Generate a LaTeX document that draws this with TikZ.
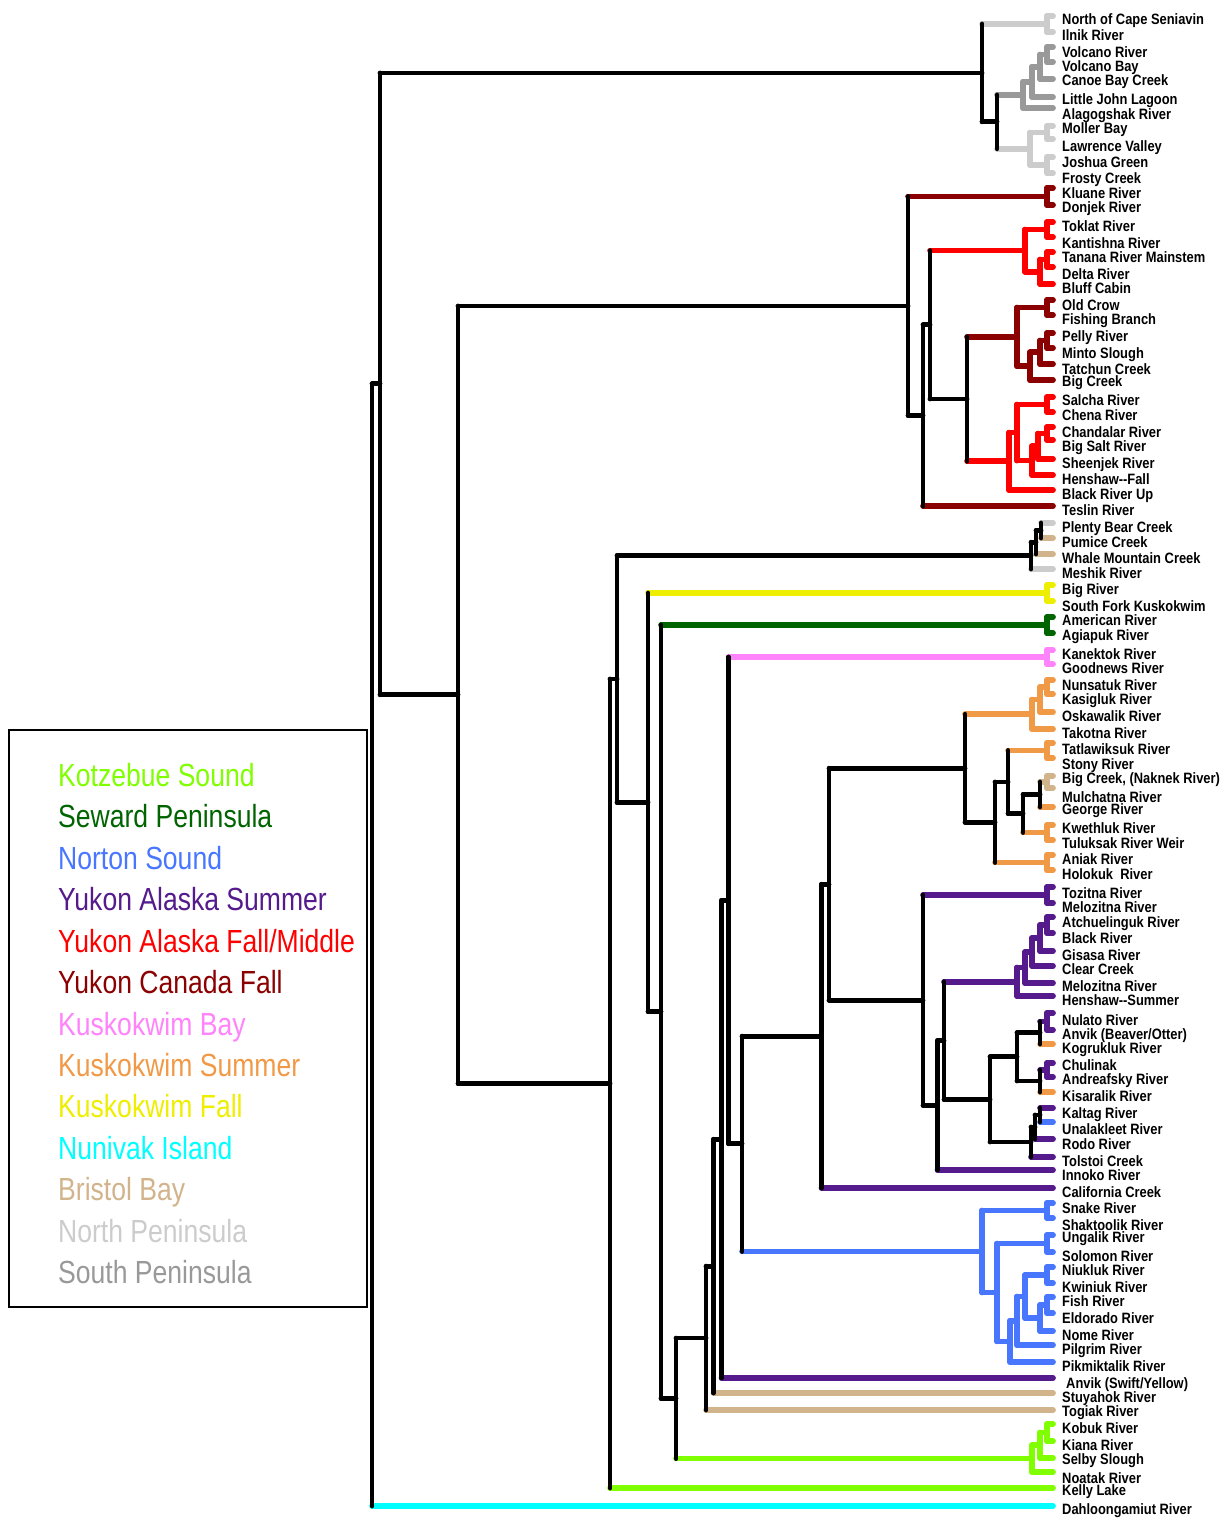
\documentclass[tikz,border=0pt]{standalone}
\usepackage{fontspec}
\usetikzlibrary{calc}
\newfontfamily\labfont[FakeStretch=0.86]{Liberation Sans}
\newfontfamily\legfont[FakeStretch=0.83]{Liberation Sans}
\definecolor{NP}{HTML}{CCCCCC}
\definecolor{SP}{HTML}{999999}
\definecolor{YCF}{HTML}{8B0000}
\definecolor{YAF}{HTML}{FF0000}
\definecolor{BB}{HTML}{D2B48C}
\definecolor{KF}{HTML}{EEEE00}
\definecolor{SEW}{HTML}{006400}
\definecolor{KB}{HTML}{FF83FA}
\definecolor{KS}{HTML}{F09A48}
\definecolor{YAS}{HTML}{551A8B}
\definecolor{NS}{HTML}{4876FF}
\definecolor{KZ}{HTML}{7FFF00}
\definecolor{NI}{HTML}{00FFFF}
\def\blackname{black}
% leaf: id, line y, colour, label y, text
\newcommand\leaf[5]{%
  \coordinate (#1) at (1053,#2);%
  \expandafter\xdef\csname dcol#1\endcsname{#3}%
  \node[lab] (t#1) at ([yshift=-5.4pt]1062,#4) {#5};%
}
% internal node: id, x, child A, child B
\newcommand\nd[4]{%
  \path let \p1=(#3), \p2=(#4) in coordinate (#1) at (#2pt,{(\y1+\y2)/2});%
  \edef\ca{\csname dcol#3\endcsname}\edef\cb{\csname dcol#4\endcsname}%
  \ifx\ca\cb\expandafter\xdef\csname dcol#1\endcsname{\ca}\else\expandafter\xdef\csname dcol#1\endcsname{black}\fi
  \edef\cn{\csname dcol#1\endcsname}%
  \draw[br,wd=\ca,draw=\ca] (#3) -- (#3 -| #1);%
  \draw[br,wd=\cb,draw=\cb] (#4) -- (#4 -| #1);%
  \draw[br,wd=\cn,draw=\cn] (#3 -| #1) -- (#4 -| #1);%
}
\begin{document}
\begin{tikzpicture}[x=1pt,y=-1pt,
  br/.style={line cap=round},
  wd/.code={\edef\tmpw{#1}\ifx\tmpw\blackname\pgfkeysalso{line width=4.8pt}\else\pgfkeysalso{line width=5.7pt}\fi},
  lab/.style={anchor=base west, inner sep=0pt, font={\labfont\bfseries\fontsize{15}{18}\selectfont}},
  leg/.style={anchor=base west, inner sep=0pt, font={\legfont\fontsize{32}{38}\selectfont}}]
\useasboundingbox (0,0) rectangle (1226,1519);
% ---------- leaves ----------
\leaf{NCS}{16}{NP}{19}{North of Cape Seniavin}
\leaf{ILN}{32}{NP}{35}{Ilnik River}
\leaf{VOR}{47}{SP}{52}{Volcano River}
\leaf{VOB}{62}{SP}{66}{Volcano Bay}
\leaf{CBC}{79}{SP}{80}{Canoe Bay Creek}
\leaf{LJL}{97}{SP}{99}{Little John Lagoon}
\leaf{ALA}{108}{SP}{114}{Alagogshak River}
\leaf{MOL}{126}{NP}{128}{Moller Bay}
\leaf{LAW}{139}{NP}{146}{Lawrence Valley}
\leaf{JOS}{157}{NP}{162}{Joshua Green}
\leaf{FRO}{173}{NP}{178}{Frosty Creek}
\leaf{KLU}{188}{YCF}{193}{Kluane River}
\leaf{DON}{205}{YCF}{207}{Donjek River}
\leaf{TOK}{222}{YAF}{226}{Toklat River}
\leaf{KAN}{237}{YAF}{243}{Kantishna River}
\leaf{TAN}{252}{YAF}{257}{Tanana River Mainstem}
\leaf{DEL}{267}{YAF}{274}{Delta River}
\leaf{BLU}{284}{YAF}{288}{Bluff Cabin}
\leaf{OLD}{300}{YCF}{305}{Old Crow}
\leaf{FIS}{315}{YCF}{319}{Fishing Branch}
\leaf{PEL}{333}{YCF}{336}{Pelly River}
\leaf{MIN}{348}{YCF}{353}{Minto Slough}
\leaf{TAT}{364}{YCF}{369}{Tatchun Creek}
\leaf{BIG}{380}{YCF}{381}{Big Creek}
\leaf{SAL}{397}{YAF}{400}{Salcha River}
\leaf{CHE}{412}{YAF}{415}{Chena River}
\leaf{CHA}{427}{YAF}{432}{Chandalar River}
\leaf{BSR}{440}{YAF}{446}{Big Salt River}
\leaf{SHE}{459}{YAF}{463}{Sheenjek River}
\leaf{HEF}{475}{YAF}{479}{Henshaw{-}{-}Fall}
\leaf{BRU}{490}{YAF}{494}{Black River Up}
\leaf{TES}{506}{YCF}{510}{Teslin River}
\leaf{PBC}{523}{NP}{527}{Plenty Bear Creek}
\leaf{PUM}{538}{BB}{542}{Pumice Creek}
\leaf{WMC}{554}{BB}{558}{Whale Mountain Creek}
\leaf{MES}{569}{NP}{573}{Meshik River}
\leaf{BGR}{585}{KF}{589}{Big River}
\leaf{SFK}{601}{KF}{606}{South Fork Kuskokwim}
\leaf{AME}{617}{SEW}{620}{American River}
\leaf{AGI}{633}{SEW}{635}{Agiapuk River}
\leaf{KNK}{650}{KB}{654}{Kanektok River}
\leaf{GOO}{664}{KB}{668}{Goodnews River}
\leaf{NUN}{680}{KS}{685}{Nunsatuk River}
\leaf{KAS}{694}{KS}{699}{Kasigluk River}
\leaf{OSK}{712}{KS}{716}{Oskawalik River}
\leaf{TAK}{729}{KS}{733}{Takotna River}
\leaf{TTL}{743}{KS}{749}{Tatlawiksuk River}
\leaf{STO}{758}{KS}{764}{Stony River}
\leaf{BCN}{776}{BB}{778}{Big Creek, (Naknek River)}
\leaf{MUL}{788}{BB}{797}{Mulchatna River}
\leaf{GEO}{807}{KS}{809}{George River}
\leaf{KWE}{825}{KS}{828}{Kwethluk River}
\leaf{TUL}{840}{KS}{843}{Tuluksak River Weir}
\leaf{ANI}{855}{KS}{859}{Aniak River}
\leaf{HOL}{870}{KS}{874}{Holokuk\ \ River}
\leaf{TOZ}{887}{YAS}{893}{Tozitna River}
\leaf{ME1}{903}{YAS}{907}{Melozitna River}
\leaf{ATC}{917}{YAS}{922}{Atchuelinguk River}
\leaf{BLK}{933}{YAS}{938}{Black River}
\leaf{GIS}{951}{YAS}{955}{Gisasa River}
\leaf{CLE}{966}{YAS}{969}{Clear Creek}
\leaf{ME2}{983}{YAS}{986}{Melozitna River}
\leaf{HES}{996}{YAS}{1000}{Henshaw{-}{-}Summer}
\leaf{NUL}{1013}{YAS}{1020}{Nulato River}
\leaf{ANB}{1030}{YAS}{1034}{Anvik (Beaver/Otter)}
\leaf{KOG}{1044}{KS}{1048}{Kogrukluk River}
\leaf{CHU}{1063}{YAS}{1065}{Chulinak}
\leaf{AND}{1077}{YAS}{1079}{Andreafsky River}
\leaf{KIS}{1092}{KS}{1096}{Kisaralik River}
\leaf{KAL}{1108}{YAS}{1113}{Kaltag River}
\leaf{UNA}{1122}{NS}{1129}{Unalakleet River}
\leaf{ROD}{1139}{YAS}{1144}{Rodo River}
\leaf{TOL}{1157}{YAS}{1161}{Tolstoi Creek}
\leaf{INN}{1170}{YAS}{1175}{Innoko River}
\leaf{CAL}{1188}{YAS}{1192}{California Creek}
\leaf{SNA}{1203}{NS}{1208}{Snake River}
\leaf{SHA}{1218}{NS}{1225}{Shaktoolik River}
\leaf{UNG}{1235}{NS}{1237}{Ungalik River}
\leaf{SOL}{1252}{NS}{1256}{Solomon River}
\leaf{NIU}{1267}{NS}{1270}{Niukluk River}
\leaf{KWI}{1283}{NS}{1287}{Kwiniuk River}
\leaf{FSH}{1297}{NS}{1301}{Fish River}
\leaf{ELD}{1313}{NS}{1318}{Eldorado River}
\leaf{NOM}{1331}{NS}{1335}{Nome River}
\leaf{PIL}{1345}{NS}{1349}{Pilgrim River}
\leaf{PIK}{1362}{NS}{1366}{Pikmiktalik River}
\leaf{ANS}{1378}{YAS}{1383}{\hspace*{4pt}Anvik (Swift/Yellow)}
\leaf{STU}{1393}{BB}{1397}{Stuyahok River}
\leaf{TOG}{1410}{BB}{1411}{Togiak River}
\leaf{KOB}{1424}{KZ}{1428}{Kobuk River}
\leaf{KIA}{1441}{KZ}{1445}{Kiana River}
\leaf{SEL}{1458}{KZ}{1459}{Selby Slough}
\leaf{NOA}{1472}{KZ}{1478}{Noatak River}
\leaf{KEL}{1488}{KZ}{1490}{Kelly Lake}
\leaf{DAH}{1506}{NI}{1509}{Dahloongamiut River}
% ---------- Peninsula clade ----------
\nd{nNPa}{1047}{NCS}{ILN}
\nd{nVa}{1047}{VOR}{VOB}
\nd{nVb}{1040}{nVa}{CBC}
\nd{nVc}{1032}{nVb}{LJL}
\nd{nVd}{1023}{nVc}{ALA}
\nd{nNPb}{1047}{MOL}{LAW}
\nd{nNPc}{1047}{JOS}{FRO}
\nd{nNPd}{1030}{nNPb}{nNPc}
\nd{nPb}{997}{nVd}{nNPd}
\nd{nP}{982}{nNPa}{nPb}
% ---------- Yukon clade ----------
\nd{nKD}{1047}{KLU}{DON}
\nd{nTK}{1047}{TOK}{KAN}
\nd{nTD}{1047}{TAN}{DEL}
\nd{nTDB}{1040}{nTD}{BLU}
\nd{nTok}{1025}{nTK}{nTDB}
\nd{nOF}{1047}{OLD}{FIS}
\nd{nPM}{1047}{PEL}{MIN}
\nd{nPMT}{1040}{nPM}{TAT}
\nd{nPMTB}{1030}{nPMT}{BIG}
\nd{nOC}{1017}{nOF}{nPMTB}
\nd{nSC}{1047}{SAL}{CHE}
\nd{nCB}{1047}{CHA}{BSR}
\nd{nCBS}{1038}{nCB}{SHE}
\nd{nCBSH}{1032}{nCBS}{HEF}
\nd{nSal}{1017}{nSC}{nCBSH}
\nd{nSalB}{1009}{nSal}{BRU}
\nd{nYa}{967}{nOC}{nSalB}
\nd{nYb}{930}{nTok}{nYa}
\nd{nYc}{923}{nYb}{TES}
\nd{nY}{908}{nKD}{nYc}
% ---------- lower clade ----------
\nd{nPBa}{1041}{PBC}{PUM}
\nd{nPBb}{1036}{nPBa}{WMC}
\nd{nPBc}{1031}{nPBb}{MES}
\nd{nBR}{1047}{BGR}{SFK}
\nd{nAA}{1047}{AME}{AGI}
\nd{nKG}{1047}{KNK}{GOO}
\nd{nNK}{1047}{NUN}{KAS}
\nd{nNKO}{1040}{nNK}{OSK}
\nd{nNKOT}{1032}{nNKO}{TAK}
\nd{nTS}{1047}{TTL}{STO}
\nd{nBM}{1047}{BCN}{MUL}
\nd{nBMG}{1040}{nBM}{GEO}
\nd{nKT}{1047}{KWE}{TUL}
\nd{nBMGK}{1023}{nBMG}{nKT}
\nd{nTSB}{1008}{nTS}{nBMGK}
\nd{nAH}{1047}{ANI}{HOL}
\nd{nTSBA}{995}{nTSB}{nAH}
\nd{nKS}{965}{nNKOT}{nTSBA}
\nd{nTM}{1047}{TOZ}{ME1}
\nd{nAB}{1047}{ATC}{BLK}
\nd{nABG}{1040}{nAB}{GIS}
\nd{nABGC}{1032}{nABG}{CLE}
\nd{nABGCM}{1025}{nABGC}{ME2}
\nd{nABGCMH}{1017}{nABGCM}{HES}
\nd{nNA}{1047}{NUL}{ANB}
\nd{nNAK}{1040}{nNA}{KOG}
\nd{nCA}{1047}{CHU}{AND}
\nd{nCAK}{1040}{nCA}{KIS}
\nd{nNC}{1017}{nNAK}{nCAK}
\nd{nKU}{1040}{KAL}{UNA}
\nd{nKUR}{1035}{nKU}{ROD}
\nd{nKURT}{1031}{nKUR}{TOL}
\nd{nNCK}{990}{nNC}{nKURT}
\nd{nSa}{944}{nABGCMH}{nNCK}
\nd{nSb}{937.5}{nSa}{INN}
\nd{nSc}{923}{nTM}{nSb}
\nd{nSd}{829}{nKS}{nSc}
\nd{nSe}{821.5}{nSd}{CAL}
\nd{nSS}{1047}{SNA}{SHA}
\nd{nUS}{1047}{UNG}{SOL}
\nd{nNKw}{1047}{NIU}{KWI}
\nd{nFE}{1047}{FSH}{ELD}
\nd{nFEN}{1040}{nFE}{NOM}
\nd{nNFEN}{1025}{nNKw}{nFEN}
\nd{nNFP}{1017}{nNFEN}{PIL}
\nd{nNFPP}{1010}{nNFP}{PIK}
\nd{nUSN}{997}{nUS}{nNFPP}
\nd{nNS}{982}{nSS}{nUSN}
\nd{nMa}{742}{nSe}{nNS}
\nd{nMb}{728.5}{nKG}{nMa}
\nd{nMc}{721.5}{nMb}{ANS}
\nd{nMd}{713.5}{nMc}{STU}
\nd{nMe}{706}{nMd}{TOG}
\nd{nKoa}{1047}{KOB}{KIA}
\nd{nKob}{1040}{nKoa}{SEL}
\nd{nKoc}{1032}{nKob}{NOA}
\nd{nMf}{676}{nMe}{nKoc}
\nd{nMg}{661}{nAA}{nMf}
\nd{nMh}{648}{nBR}{nMg}
\nd{nMi}{617}{nPBc}{nMh}
\nd{nMj}{610}{nMi}{KEL}
% ---------- top ----------
\nd{nU}{458}{nY}{nMj}
\nd{nA}{380}{nP}{nU}
\nd{root}{372}{nA}{DAH}
% ---------- legend ----------
\node[draw, line width=1.5pt, anchor=north west, minimum width=358pt, minimum height=577pt, inner sep=0pt, outer sep=0pt] (legbox) at (9,730) {};
\node[leg, text=KZ]  (g01) at ([yshift=-11.5pt]58,775) {Kotzebue Sound};
\node[leg, text=SEW] (g02) at ([yshift=-11.5pt]58,816.4) {Seward Peninsula};
\node[leg, text=NS]  (g03) at ([yshift=-11.5pt]58,857.8) {Norton Sound};
\node[leg, text=YAS] (g04) at ([yshift=-11.5pt]58,899.3) {Yukon Alaska Summer};
\node[leg, text=YAF] (g05) at ([yshift=-11.5pt]58,940.7) {Yukon Alaska Fall/Middle};
\node[leg, text=YCF] (g06) at ([yshift=-11.5pt]58,982.1) {Yukon Canada Fall};
\node[leg, text=KB]  (g07) at ([yshift=-11.5pt]58,1023.5) {Kuskokwim Bay};
\node[leg, text=KS]  (g08) at ([yshift=-11.5pt]58,1065) {Kuskokwim Summer};
\node[leg, text=KF]  (g09) at ([yshift=-11.5pt]58,1106.4) {Kuskokwim Fall};
\node[leg, text=NI]  (g10) at ([yshift=-11.5pt]58,1147.8) {Nunivak Island};
\node[leg, text=BB]  (g11) at ([yshift=-11.5pt]58,1189.2) {Bristol Bay};
\node[leg, text=NP]  (g12) at ([yshift=-11.5pt]58,1230.6) {North Peninsula};
\node[leg, text=SP]  (g13) at ([yshift=-11.5pt]58,1272) {South Peninsula};
\end{tikzpicture}
\end{document}
